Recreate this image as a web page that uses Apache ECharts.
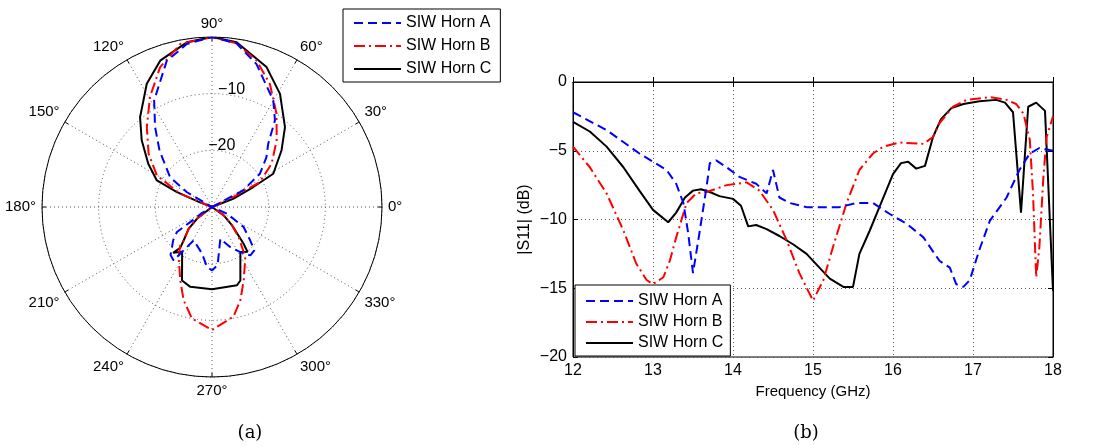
<!DOCTYPE html>
<html>
<head>
<meta charset="utf-8">
<script src="https://cdn.jsdelivr.net/npm/echarts/dist/echarts.min.js"></script>
<style>
html,body{margin:0;padding:0;background:#fff}
#main{width:1099px;height:446px}
</style>
</head>
<body>
<div id="main"></div>
<script>
// (a) radiation pattern: angle (deg) / normalised gain (dB)
var angA = [0, 28, 34.8, 42.4, 48.3, 54, 60.1, 72.7, 81.5, 90, 98.8, 107.2, 118.5, 125.5, 132.9, 144.5, 149.4, 155, 180, 206, 211, 214.7, 215.5, 220.5, 229.2, 234.3, 241.2, 257.9, 265.2, 270, 275.5, 284.7, 294.6, 302.2, 308.4, 314.3, 319, 327.7, 336, 345, 360];
var gainA = [-30, -23.8, -19.7, -17, -15.1, -11.1, -8.3, -3.6, -0.8, 0, -0.9, -3.0, -8.6, -12.7, -16.4, -20.9, -24.8, -30, -30, -30, -27.9, -25.4, -22.4, -21.0, -18.8, -18.4, -23.3, -21.6, -19.4, -18.8, -19.7, -24.2, -22.2, -20.6, -19.1, -19.3, -21.1, -23.4, -27.1, -30, -30];

var angB = [0, 22, 25, 27.5, 36, 45.9, 55.3, 64.8, 73, 81.5, 90, 101, 110.4, 119.4, 129.2, 140, 150.2, 157.4, 161, 180, 212, 217.9, 222.9, 229.6, 230.4, 236.3, 246.6, 253.1, 259.8, 270, 281.1, 286.9, 293.4, 303.7, 306.9, 311.6, 317.5, 324.5, 330, 360];
var gainB = [-30, -30, -25.8, -20.5, -17, -13.6, -10, -6, -3, -0.8, 0, -0.7, -3.7, -7.7, -11.8, -15.4, -18.8, -23.9, -30, -30, -30, -26.7, -24.4, -22.3, -21.2, -19.4, -15.9, -12.8, -10.0, -8.3, -10.3, -12.8, -15.9, -19.4, -21.2, -22.9, -25.2, -27.5, -30, -30];

var angC = [0, 21.3, 25.8, 28.5, 39.1, 47.6, 59, 68.7, 81.5, 90, 98.7, 109.5, 117.9, 128.7, 136.5, 145.8, 154.3, 157, 159, 162, 180, 212, 217.9, 222.9, 229.6, 232.1, 229.7, 236.3, 247.8, 254.8, 270, 287.7, 291.1, 302.2, 308.4, 310.8, 317.5, 324.5, 330, 360];
var gainC = [-30, -26, -21.9, -17.7, -14.2, -10.9, -6.7, -3.5, -0.6, 0, -0.6, -2.6, -5.4, -9.7, -12.9, -16.4, -19.2, -23.2, -27.5, -30, -30, -30, -26.7, -24.4, -22.3, -20.9, -19.4, -20.5, -16.0, -15.4, -15.5, -15.5, -16.1, -20.6, -19.9, -21.5, -25.2, -27.5, -30, -30];

// (b) |S11| vs frequency
var freqA = [12, 12.42, 12.83, 13.17, 13.29, 13.38, 13.44, 13.5, 13.58, 13.67, 13.71, 13.79, 13.92, 14.08, 14.29, 14.42, 14.5, 14.58, 14.71, 14.92, 15.33, 15.54, 15.75, 15.96, 16.17, 16.38, 16.58, 16.71, 16.79, 16.88, 16.96, 17.08, 17.21, 17.42, 17.58, 17.71, 17.83, 18];
var s11A = [-2.2, -3.5, -5.2, -6.4, -7.4, -8.8, -11.0, -13.9, -11.0, -7.6, -5.9, -5.7, -6.2, -6.9, -7.4, -8.1, -6.4, -8.4, -8.8, -9.1, -9.1, -8.8, -8.8, -9.6, -10.3, -11.3, -13.0, -13.5, -14.7, -14.9, -14.4, -12.2, -10.1, -8.4, -6.4, -5.2, -4.8, -5.0];

var freqB = [12, 12.21, 12.42, 12.63, 12.79, 12.92, 13.0, 13.13, 13.21, 13.29, 13.42, 13.54, 13.67, 13.92, 14.17, 14.33, 14.5, 14.67, 14.83, 15.0, 15.13, 15.25, 15.42, 15.58, 15.75, 15.88, 16.08, 16.38, 16.5, 16.58, 16.75, 16.92, 17.21, 17.42, 17.54, 17.63, 17.71, 17.75, 17.79, 17.83, 17.88, 17.92, 18];
var s11B = [-4.7, -6.2, -8.1, -10.8, -13.2, -14.4, -14.7, -14.2, -13.0, -11.3, -8.8, -8.1, -8.0, -7.5, -7.3, -7.9, -9.3, -11.5, -13.9, -15.9, -14.4, -12.0, -8.8, -6.4, -5.2, -4.7, -4.4, -4.5, -4.0, -3.0, -1.8, -1.3, -1.1, -1.3, -1.6, -2.3, -4.2, -8.1, -14.2, -12.0, -6.9, -4.0, -2.5];

var freqC = [12, 12.21, 12.42, 12.63, 12.83, 13.0, 13.19, 13.29, 13.4, 13.5, 13.6, 13.71, 13.83, 14.0, 14.1, 14.19, 14.29, 14.42, 14.58, 14.75, 14.92, 15.08, 15.21, 15.38, 15.5, 15.58, 15.71, 15.83, 16.0, 16.1, 16.19, 16.29, 16.4, 16.5, 16.6, 16.73, 16.88, 17.08, 17.29, 17.4, 17.5, 17.6, 17.69, 17.79, 17.9, 18];
var s11C = [-2.9, -3.6, -4.7, -6.2, -7.9, -9.3, -10.2, -9.5, -8.4, -7.9, -7.8, -8.0, -8.3, -8.5, -9.0, -10.5, -10.4, -10.7, -11.2, -11.8, -12.5, -13.5, -14.3, -14.9, -14.9, -12.5, -10.8, -9.1, -6.7, -5.9, -5.8, -6.3, -6.1, -4.0, -2.7, -1.9, -1.6, -1.4, -1.3, -1.5, -2.2, -9.5, -1.8, -1.5, -2.1, -15.2];

var names = ['SIW Horn A', 'SIW Horn B', 'SIW Horn C'];
var colors = ['#0000ff', '#ff0000', '#000000'];
var dashes = [[9, 5], [11, 4, 2, 4], 'solid'];

var FONT = 'Liberation Sans';
var FS = 16;
var dotted = {color: '#555', width: 1, type: [1, 3]};

function pairPolar(ang, g) {
	var out = [];
	for (var i = 0; i < ang.length; i++) out.push([g[i], ang[i]]);
	return out;
}
function pairXY(x, y) {
	var out = [];
	for (var i = 0; i < x.length; i++) out.push([x[i], y[i]]);
	return out;
}
function minus(v) {
	return String(v).replace('-', '\u2212');
}

var polarData = [pairPolar(angA, gainA), pairPolar(angB, gainB), pairPolar(angC, gainC)];
var xyData = [pairXY(freqA, s11A), pairXY(freqB, s11B), pairXY(freqC, s11C)];

var series = [];
for (var i = 0; i < 3; i++) {
	series.push({
		name: names[i], type: 'line', coordinateSystem: 'polar', polarIndex: 0,
		data: polarData[i], symbol: 'none', smooth: false, z: 3 - i + 2,
		lineStyle: {color: colors[i], width: 2, type: dashes[i]}, itemStyle: {color: colors[i]},
		animation: false
	});
}
for (var i = 0; i < 3; i++) {
	series.push({
		name: names[i], type: 'line', xAxisIndex: 0, yAxisIndex: 0,
		data: xyData[i], symbol: 'none', z: 3 - i + 2,
		lineStyle: {color: colors[i], width: 2, type: dashes[i]}, itemStyle: {color: colors[i]},
		animation: false
	});
}

var legendCommon = {
	orient: 'vertical', itemWidth: 47, itemHeight: 14,
	backgroundColor: '#fff', borderColor: '#000', borderWidth: 1, borderRadius: 0,
	textStyle: {fontFamily: FONT, fontSize: FS, color: '#000'},
	itemStyle: {opacity: 0}, selectedMode: false, data: names
};

var option = {
	backgroundColor: '#fff',
	animation: false,
	textStyle: {fontFamily: FONT},
	polar: [{center: [212, 207], radius: 170}],
	angleAxis: [{
		polarIndex: 0, type: 'value', min: 0, max: 360, interval: 30,
		startAngle: 0, clockwise: false,
		axisLine: {show: true, lineStyle: {color: '#000', width: 1}},
		axisTick: {show: true, inside: true, length: 4, lineStyle: {color: '#000'}},
		axisLabel: {margin: 6, color: '#000', fontSize: FS - 1, fontFamily: FONT,
			formatter: function(v) { return v >= 360 ? '' : v + '\u00b0'; }},
		splitLine: {show: true, lineStyle: dotted}
	}],
	radiusAxis: [{
		polarIndex: 0, type: 'value', min: -30, max: 0, interval: 10,
		axisLine: {show: false}, axisTick: {show: false}, axisLabel: {show: false},
		splitLine: {show: true, lineStyle: dotted}
	}],
	grid: [{left: 573, top: 82, width: 480, height: 275, show: true, borderColor: '#000', borderWidth: 1}],
	xAxis: [{
		type: 'value', min: 12, max: 18, interval: 1, position: 'bottom',
		name: 'Frequency (GHz)', nameLocation: 'middle', nameGap: 27,
		nameTextStyle: {fontSize: 15, color: '#000', fontFamily: FONT},
		axisLine: {show: true, lineStyle: {color: '#000'}},
		axisTick: {show: true, inside: true, length: 5, lineStyle: {color: '#000'}},
		axisLabel: {margin: 6, color: '#000', fontSize: FS, fontFamily: FONT},
		splitLine: {show: true, lineStyle: dotted}
	}, {
		type: 'value', min: 12, max: 18, interval: 1, position: 'top',
		axisLine: {show: true, lineStyle: {color: '#000'}},
		axisTick: {show: true, inside: true, length: 5, lineStyle: {color: '#000'}},
		axisLabel: {show: false}, splitLine: {show: false}
	}],
	yAxis: [{
		type: 'value', min: -20, max: 0, interval: 5, position: 'left',
		name: '|S11| (dB)', nameLocation: 'middle', nameGap: 40,
		nameTextStyle: {fontSize: FS, color: '#000', fontFamily: FONT},
		axisLine: {show: true, lineStyle: {color: '#000'}},
		axisTick: {show: true, inside: true, length: 5, lineStyle: {color: '#000'}},
		axisLabel: {margin: 6, color: '#000', fontSize: FS, fontFamily: FONT, formatter: minus},
		splitLine: {show: true, lineStyle: dotted}
	}, {
		type: 'value', min: -20, max: 0, interval: 5, position: 'right',
		axisLine: {show: true, lineStyle: {color: '#000'}},
		axisTick: {show: true, inside: true, length: 5, lineStyle: {color: '#000'}},
		axisLabel: {show: false}, splitLine: {show: false}
	}],
	legend: [
		Object.assign({}, legendCommon, {left: 343, top: 9, itemGap: 7, padding: [6, 9, 5, 10]}),
		Object.assign({}, legendCommon, {left: 575, top: 285, itemGap: 5, padding: [8, 7, 5, 10]})
	],
	series: series
};

var chart = echarts.init(document.getElementById('main'));
chart.setOption(option);

// radial tick labels sit on the 80° spoke, like MATLAB's polar()
var rLabels = [-10, -20];
var graphics = [];
for (var k = 0; k < rLabels.length; k++) {
	var p = chart.convertToPixel({polarIndex: 0}, [rLabels[k], 80]);
	graphics.push({
		type: 'text', x: p[0], y: p[1] - 6, z: 10,
		style: {text: minus(rLabels[k]), font: FS + 'px ' + FONT, fill: '#000', textAlign: 'center', textVerticalAlign: 'middle'}
	});
}
graphics.push({type: 'text', x: 250, y: 433, style: {text: '(a)', font: '18px "DejaVu Serif"', fill: '#000', textAlign: 'center', textVerticalAlign: 'middle'}});
graphics.push({type: 'text', x: 806, y: 433, style: {text: '(b)', font: '18px "DejaVu Serif"', fill: '#000', textAlign: 'center', textVerticalAlign: 'middle'}});
chart.setOption({graphic: graphics});
</script>
</body>
</html>
